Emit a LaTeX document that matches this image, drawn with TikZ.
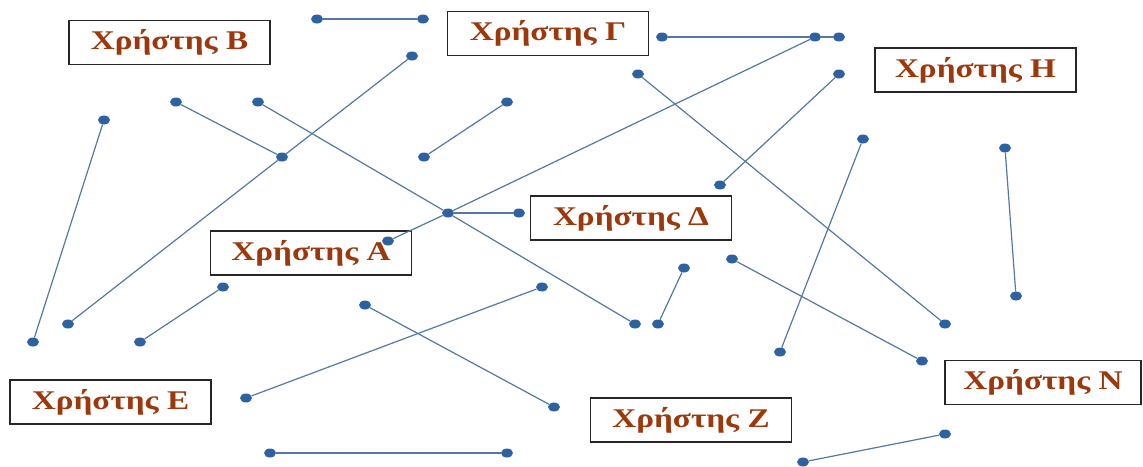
\documentclass[tikz,border=0pt]{standalone}
\usepackage{fontspec}
\setmainfont{Liberation Serif}
\usetikzlibrary{shapes.geometric}
\definecolor{txtc}{RGB}{156,56,12}
\definecolor{linec}{RGB}{84,120,165}
\definecolor{dotc}{RGB}{46,98,158}
\newcommand{\utxt}[1]{\scalebox{1.23}[1]{#1}}
\tikzset{
  userbox/.style={draw=black!85, line width=1.3pt, fill=white, minimum width=201pt, minimum height=44pt, inner sep=0pt, text=txtc, font=\fontsize{27}{30}\selectfont\bfseries},
  dotnode/.style={ellipse, fill=dotc, minimum width=12pt, minimum height=9pt, inner sep=0pt},
  wire/.style={draw=linec, line width=1.2pt}
}
\begin{document}
\begin{tikzpicture}[x=1pt,y=-1pt]
\useasboundingbox (0,0) rectangle (1143,466);
% boxes
\node[userbox] (uB) at (169.5,42.5) {\utxt{Χρήστης Β}};
\node[userbox] (uG) at (548,33.5) {\utxt{Χρήστης Γ}};
\node[userbox] (uH) at (975.5,70) {\utxt{Χρήστης Η}};
\node[userbox] (uD) at (631,218) {\utxt{Χρήστης Δ}};
\node[userbox] (uA) at (311,253) {\utxt{Χρήστης Α}};
\node[userbox] (uE) at (110.5,402) {\utxt{Χρήστης Ε}};
\node[userbox] (uZ) at (691,420) {\utxt{Χρήστης Ζ}};
\node[userbox, minimum width=196pt] (uN) at (1043,382.5) {\utxt{Χρήστης Ν}};
% dots
\foreach \n/\x/\y in {
 a1/317/19, a2/423/19,
 b1/662/37, b2/815/37, b3/839/37,
 c1/388/241,
 d1/176/102, d2/282/157, d3/68/324, d4/412/56,
 e1/258/102, e2/448/213, e3/635/324, e4/519/213,
 f1/104/120, f2/33/342,
 g1/424/157, g2/507/102,
 h1/638/74, h2/945/324,
 i1/839/74, i2/720/185,
 j1/863/139, j2/780/352,
 k1/1005/148, k2/1016/296,
 l1/223/287, l2/140/342,
 m1/365/305, m2/554/407,
 n1/542/287, n2/246/398,
 o1/684/268, o2/658/324,
 p1/732/259, p2/922/361,
 q1/270/453, q2/507/453,
 r1/803/462, r2/945/434}
 \node[dotnode] (\n) at (\x,\y) {};
% connectors
\draw[wire] (a1) -- (a2);
\draw[wire] (b1) -- (b2) -- (b3);
\draw[wire] (c1) -- (e2) -- (b2);
\draw[wire] (d1) -- (d2);
\draw[wire] (d3) -- (d2) -- (d4);
\draw[wire] (e1) -- (e2) -- (e3);
\draw[wire] (e2) -- (e4);
\draw[wire] (f1) -- (f2);
\draw[wire] (g1) -- (g2);
\draw[wire] (h1) -- (h2);
\draw[wire] (i1) -- (i2);
\draw[wire] (j1) -- (j2);
\draw[wire] (k1) -- (k2);
\draw[wire] (l1) -- (l2);
\draw[wire] (m1) -- (m2);
\draw[wire] (n1) -- (n2);
\draw[wire] (o1) -- (o2);
\draw[wire] (p1) -- (p2);
\draw[wire] (q1) -- (q2);
\draw[wire] (r1) -- (r2);
\end{tikzpicture}
\end{document}
